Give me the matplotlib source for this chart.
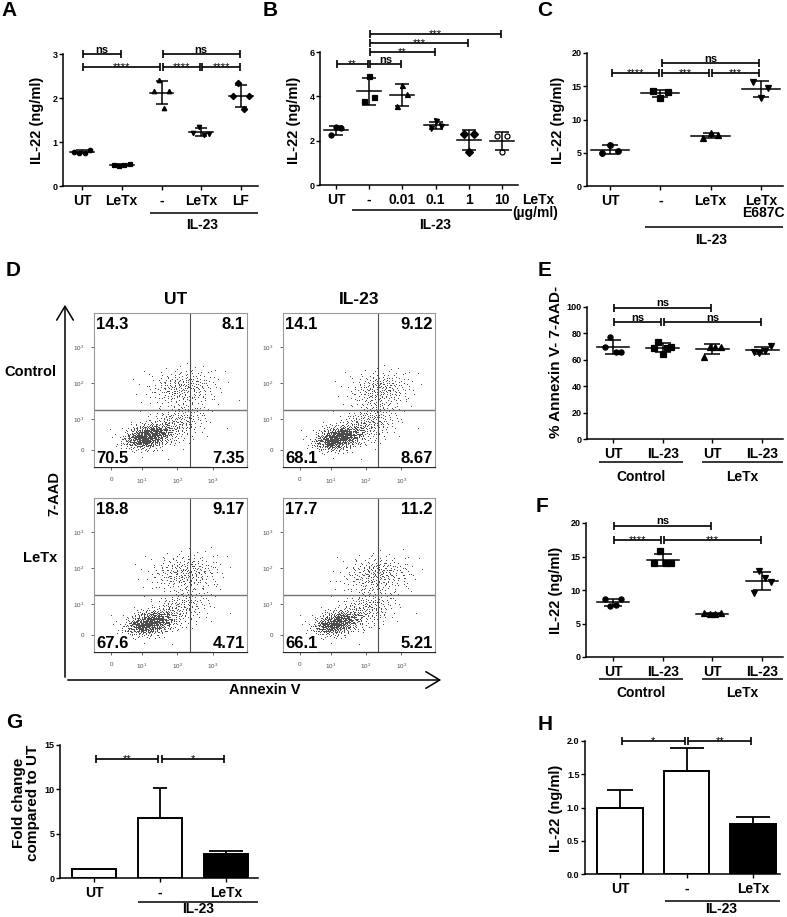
import numpy as np
import matplotlib
matplotlib.use('Agg')
import matplotlib.pyplot as plt
from matplotlib.lines import Line2D
from matplotlib.patches import FancyArrowPatch

plt.rcParams['font.family'] = ['Liberation Sans', 'DejaVu Sans']
plt.rcParams['font.weight'] = 'bold'
plt.rcParams['mathtext.default'] = 'regular'

# ======================= DATA =======================
# Panel A
A_labels = ['UT', 'LeTx', '-', 'LeTx', 'LF']
A_UT = [0.78, 0.75, 0.76, 0.82]
A_LeTx = [0.47, 0.46, 0.48, 0.50]
A_IL23 = [2.15, 2.42, 1.77, 2.15]
A_IL23_LeTx = [1.20, 1.35, 1.15, 1.18]
A_IL23_LF = [2.05, 2.35, 1.75, 2.05]
A_sig = [(0, 1, 3.0, 'ns'), (0, 2, 2.7, '****'), (2, 4, 3.0, 'ns'),
         (2, 3, 2.7, '****'), (3, 4, 2.7, '****')]

# Panel B
B_labels = ['UT', '-', '0.01', '0.1', '1', '10']
B_UT = [2.25, 2.62, 2.55]
B_IL23 = [3.80, 4.92, 3.95]
B_001 = [3.55, 4.52, 4.10]
B_01 = [2.55, 2.88, 2.65]
B_1 = [2.30, 1.50, 2.30]
B_10 = [2.22, 1.50, 2.22]
B_sig = [(0, 1, 5.46, '**'), (1, 2, 5.46, 'ns'), (1, 3, 6.0, '**'),
         (1, 4, 6.4, '***'), (1, 5, 6.8, '***')]

# Panel C
C_labels = ['UT', '-', 'LeTx', 'LeTx']
C_UT = [5.0, 6.2, 5.2]
C_IL23 = [14.3, 13.3, 14.2]
C_LeTx = [7.2, 7.9, 7.6]
C_E687C = [15.7, 13.3, 14.7]
C_sig = [(0, 1, 17.0, '****'), (1, 2, 17.0, '***'), (2, 3, 17.0, '***'),
         (1, 3, 18.5, 'ns')]

# Panel D (quadrant percentages: UL, UR, LL, LR)
D_cols = ['UT', 'IL-23']
D_rows = ['Control', 'LeTx']
D_quad = [[14.3, 8.1, 70.5, 7.35],
          [14.1, 9.12, 68.1, 8.67],
          [18.8, 9.17, 67.6, 4.71],
          [17.7, 11.2, 66.1, 5.21]]
# event clouds: (centre x, centre y, spread x, spread y, corr, n events) in decades
D_clusters = [
    [(1.15, 0.50, 0.32, 0.17, 0.30, 800), (1.95, 0.85, 0.45, 0.30, 0.35, 260), (2.15, 1.85, 0.50, 0.26, 0.10, 280)],
    [(1.20, 0.45, 0.32, 0.17, 0.30, 800), (2.05, 0.85, 0.45, 0.30, 0.35, 280), (2.40, 1.80, 0.45, 0.26, 0.10, 260)],
    [(1.20, 0.45, 0.33, 0.17, 0.30, 760), (2.05, 0.85, 0.45, 0.30, 0.35, 230), (2.20, 1.85, 0.50, 0.26, 0.10, 280)],
    [(1.15, 0.45, 0.31, 0.17, 0.30, 680), (2.00, 0.85, 0.45, 0.30, 0.35, 250), (2.30, 1.80, 0.50, 0.26, 0.10, 290)],
]
D_tick_pos = [0.13, 1, 2, 3]
D_tick_lab = ['0', '$10^1$', '$10^2$', '$10^3$']
D_ytick_pos = [0.14, 1, 2, 3]

# Panel E
E_labels = ['UT', 'IL-23', 'UT', 'IL-23']
E_C_UT = [70.0, 77.0, 66.0, 66.0]
E_C_IL23 = [69.0, 73.5, 64.5, 69.0, 70.0]
E_L_UT = [62.5, 70.0, 69.5, 70.0]
E_L_IL23 = [66.0, 65.0, 67.0, 70.5]
E_sig = [(0, 2, 99.5, 'ns'), (0, 1, 88.5, 'ns'), (1, 3, 88.5, 'ns')]

# Panel F
F_labels = ['UT', 'IL-23', 'UT', 'IL-23']
F_C_UT = [8.7, 7.6, 7.7, 8.6]
F_C_IL23 = [14.0, 15.8, 14.0, 14.0]
F_L_UT = [6.5, 6.4, 6.4, 6.6]
F_L_IL23 = [9.5, 12.8, 11.8, 11.2]
F_sig = [(0, 2, 19.6, 'ns'), (0, 1, 17.5, '****'), (1, 3, 17.5, '***')]

# Panel G
G_labels = ['UT', '-', 'LeTx']
G_mean = [1.0, 6.8, 2.75]
G_err = [0.0, 3.3, 0.35]
G_sig = [(0, 1, 13.4, '**'), (1, 2, 13.4, '*')]

# Panel H
H_labels = ['UT', '-', 'LeTx']
H_mean = [1.0, 1.55, 0.75]
H_err = [0.27, 0.34, 0.11]
H_sig = [(0, 1, 2.0, '*'), (1, 2, 2.0, '**')]

# ======================= FIGURE =======================
W, H = 787, 917
fig = plt.figure(figsize=(W / 100, H / 100), dpi=100)


def fy(y):
    return 1 - y / H


def add_ax(L, T, R, B):
    return fig.add_axes([L / W, fy(B), (R - L) / W, (B - T) / H])


def ftext(x, y, s, size=10, ha='center', va='center', rot=0, weight='bold', **kw):
    fig.text(x / W, fy(y), s, fontsize=size, ha=ha, va=va, rotation=rot,
             fontweight=weight, **kw)


def fline(x0, x1, y, lw=1.1):
    fig.add_artist(Line2D([x0 / W, x1 / W], [fy(y), fy(y)], color='k', lw=lw,
                          solid_capstyle='butt'))


def prism_axes(box, ylim, yticks, ytl, xlabels, c0, step):
    L, T, R, B = box
    ax = add_ax(L, T, R, B)
    ax.set_xlim((L - c0) / step, (R - c0) / step)
    ax.set_ylim(*ylim)
    ax.set_facecolor('none')
    for s in ['top', 'right']:
        ax.spines[s].set_visible(False)
    for s in ['left', 'bottom']:
        ax.spines[s].set_linewidth(1.1)
    ax.set_yticks(yticks)
    ax.set_yticklabels(ytl, fontsize=6.5, fontweight='bold')
    ax.set_xticks(range(len(xlabels)))
    ax.set_xticklabels(xlabels, fontsize=10, fontweight='bold')
    ax.tick_params(axis='y', direction='out', length=3, width=1.0, pad=1)
    ax.tick_params(axis='x', direction='out', length=3, width=1.0, pad=2.5)
    return ax


def sig(ax, x1, x2, y, txt, shrink=0.03):
    a, b = x1 + shrink, x2 - shrink
    ax.plot([a, b], [y, y], color='k', lw=1.2, clip_on=False, solid_capstyle='butt')
    ax.plot([a, b], [y, y], ls='none', marker='|', ms=6, mew=1.2, color='k', clip_on=False)
    if txt == 'ns':
        ax.annotate(txt, xy=((a + b) / 2, y), xytext=(0, 1.0), textcoords='offset points',
                    ha='center', va='baseline', fontsize=8, fontweight='bold',
                    annotation_clip=False)
    else:
        ax.annotate(txt, xy=((a + b) / 2, y), xytext=(0, -2.2), textcoords='offset points',
                    ha='center', va='baseline', fontsize=8, fontweight='normal',
                    annotation_clip=False)


def dotplot(ax, groups, markers, fills, half_mean, capsize, ms=4, spread=0.17):
    for i, (vals, m, fc) in enumerate(zip(groups, markers, fills)):
        vals = np.asarray(vals, dtype=float)
        n = len(vals)
        offs = np.linspace(-spread, spread, n)
        ax.plot(i + offs, vals, ls='none', marker=m, ms=ms, mfc=fc, mec='k', mew=0.9,
                clip_on=False, zorder=3)
        mean = vals.mean()
        sd = vals.std(ddof=1)
        ax.plot([i - half_mean, i + half_mean], [mean, mean], color='k', lw=1.1, zorder=4)
        ax.errorbar([i], [mean], yerr=[sd], color='k', lw=1.1, capsize=capsize,
                    capthick=1.1, fmt='none', zorder=4)


def barplot(ax, vals, errs, fills, caps, width=0.67):
    for i, (v, e, f, c) in enumerate(zip(vals, errs, fills, caps)):
        ax.bar(i, v, width=width, color=f, edgecolor='k', lw=1.4, zorder=2)
        if e > 0:
            ax.errorbar([i], [v], yerr=[[0], [e]], color='k', lw=1.3, capsize=c,
                        capthick=1.3, fmt='none', zorder=3)


# ---------------- Panel A ----------------
axA = prism_axes((63, 54, 258, 186), (0, 3), [0, 1, 2, 3], ['0', '1', '2', '3'],
                 A_labels, 82, 39.75)
dotplot(axA, [A_UT, A_LeTx, A_IL23, A_IL23_LeTx, A_IL23_LF],
        ['o', 's', '^', 'v', 'D'], ['k'] * 5, 0.3, 4, ms=3.2, spread=0.2)
for s in A_sig:
    sig(axA, *s)
ftext(37, 120, 'IL-22 (ng/ml)', size=10.5, rot=90)
fline(150, 258, 213)
ftext(202, 225, 'IL-23', size=10)
ftext(9, 11, 'A', size=15)

# ---------------- Panel B ----------------
axB = prism_axes((320, 52, 518, 185), (0, 6), [0, 2, 4, 6], ['0', '2', '4', '6'],
                 B_labels, 336, 33.2)
dotplot(axB, [B_UT, B_IL23, B_001, B_01, B_1, B_10],
        ['o', 's', '^', 'v', 'D', 'o'], ['k', 'k', 'k', 'k', 'k', 'white'], 0.36, 5,
        ms=3.6, spread=0.15)
for s in B_sig:
    sig(axB, *s)
ftext(294, 120, 'IL-22 (ng/ml)', size=10.5, rot=90)
fline(352, 512, 210)
ftext(435, 225, 'IL-23', size=10)
ftext(522, 200, 'LeTx', size=10, ha='left')
ftext(512, 213, '(µg/ml)', size=10, ha='left')
ftext(270, 10, 'B', size=15)

# ---------------- Panel C ----------------
axC = prism_axes((587, 53, 783, 186), (0, 20), [0, 5, 10, 15, 20],
                 ['0', '5', '10', '15', '20'], C_labels, 610, 50.3)
dotplot(axC, [C_UT, C_IL23, C_LeTx, C_E687C], ['o', 's', '^', 'v'], ['k'] * 4, 0.38, 5.8,
        ms=4.0, spread=0.15)
for s in C_sig:
    sig(axC, *s)
ftext(558, 120, 'IL-22 (ng/ml)', size=10.5, rot=90)
ftext(763, 213, 'E687C', size=10)
fline(645, 783, 227)
ftext(711, 240, 'IL-23', size=10)
ftext(545, 11, 'C', size=15)

# ---------------- Panel D ----------------
def halton(n, base, start):
    out = np.empty(n)
    for k in range(n):
        i = k + start
        f, r = 1.0, 0.0
        while i > 0:
            f /= base
            r += f * (i % base)
            i //= base
        out[k] = r
    return out


D_boxes = [(94, 313, 247, 467), (283, 313, 435, 467), (94, 498, 247, 652), (283, 498, 435, 652)]
for p, box in enumerate(D_boxes):
    ax = add_ax(*box)
    ax.set_xlim(-0.35, 3.96)
    ax.set_ylim(-0.33, 3.94)
    for s in ['top', 'left', 'right']:
        ax.spines[s].set_color('0.6')
        ax.spines[s].set_linewidth(0.8)
    ax.spines['bottom'].set_color('0.15')
    ax.spines['bottom'].set_linewidth(0.9)
    for c, (cx, cy, sx, sy, rho, n) in enumerate(D_clusters[p]):
        u1 = halton(n, 5, 3 + 53 * c + 17 * p)
        u2 = halton(n, 7, 3 + 53 * c + 17 * p)
        r = np.sqrt(-2 * np.log(np.clip(u1, 1e-6, 1)))
        z1 = r * np.cos(2 * np.pi * u2)
        z2 = r * np.sin(2 * np.pi * u2)
        xs = cx + sx * z1
        ys = cy + sy * (rho * z1 + np.sqrt(1 - rho ** 2) * z2)
        ax.plot(xs, ys, ',', color='0.3', zorder=1)
    ax.axvline(2.35, color='0.3', lw=0.8, zorder=2)
    ax.axhline(1.25, color='0.45', lw=1.0, zorder=2)
    ax.set_xticks(D_tick_pos)
    ax.set_xticklabels(D_tick_lab, fontsize=4.5, fontweight='normal')
    ax.set_yticks(D_ytick_pos)
    ax.set_yticklabels(D_tick_lab, fontsize=4.5, fontweight='normal')
    ax.tick_params(axis='both', direction='out', length=2, width=0.6, pad=5, colors='0.3')
    q = D_quad[p]
    bb = dict(facecolor='white', edgecolor='none', pad=0.6)
    ax.text(0.015, 0.975, str(q[0]), transform=ax.transAxes, ha='left', va='top',
            fontsize=12, fontweight='bold', bbox=bb, zorder=5)
    ax.text(0.985, 0.975, str(q[1]), transform=ax.transAxes, ha='right', va='top',
            fontsize=12, fontweight='bold', bbox=bb, zorder=5)
    ax.text(0.015, 0.005, str(q[2]), transform=ax.transAxes, ha='left', va='bottom',
            fontsize=12, fontweight='bold', bbox=bb, zorder=5)
    ax.text(0.985, 0.005, str(q[3]), transform=ax.transAxes, ha='right', va='bottom',
            fontsize=12, fontweight='bold', bbox=bb, zorder=5)

ftext(176, 300, D_cols[0], size=12.5)
ftext(359, 300, D_cols[1], size=12.5)
ftext(30, 372, D_rows[0], size=10.5)
ftext(40, 558, D_rows[1], size=10.5)
ftext(54, 493, '7-AAD', size=10.5, rot=90)
ftext(265, 690, 'Annexin V', size=10.5)
fig.add_artist(FancyArrowPatch((65 / W, fy(680)), (65 / W, fy(302)), transform=fig.transFigure,
                               arrowstyle='->,head_length=0.5,head_width=0.3',
                               mutation_scale=20, lw=1.1, color='k'))
fig.add_artist(FancyArrowPatch((65 / W, fy(680)), (444 / W, fy(680)), transform=fig.transFigure,
                               arrowstyle='->,head_length=0.5,head_width=0.3',
                               mutation_scale=20, lw=1.1, color='k'))
ftext(13, 270, 'D', size=15)

# ---------------- Panel E ----------------
axE = prism_axes((587, 307, 783, 439), (0, 100), [0, 20, 40, 60, 80, 100],
                 ['0', '20', '40', '60', '80', '100'], E_labels, 613, 49.7)
dotplot(axE, [E_C_UT, E_C_IL23, E_L_UT, E_L_IL23], ['o', 's', '^', 'v'], ['k'] * 4,
        0.33, 6, ms=3.7, spread=0.17)
for s in E_sig:
    sig(axE, *s)
ftext(556, 362, '% Annexin V- 7-AAD-', size=11, rot=90)
fline(599, 683, 462)
fline(702, 783, 462)
ftext(641, 477, 'Control', size=10)
ftext(742, 477, 'LeTx', size=10)
ftext(545, 271, 'E', size=15)

# ---------------- Panel F ----------------
axF = prism_axes((586, 523, 783, 657), (0, 20), [0, 5, 10, 15, 20],
                 ['0', '5', '10', '15', '20'], F_labels, 613, 49.7)
dotplot(axF, [F_C_UT, F_C_IL23, F_L_UT, F_L_IL23], ['o', 's', '^', 'v'], ['k'] * 4,
        0.32, 6.5, ms=3.7, spread=0.17)
for s in F_sig:
    sig(axF, *s)
ftext(556, 590, 'IL-22 (ng/ml)', size=10.5, rot=90)
fline(599, 683, 679)
fline(702, 783, 679)
ftext(641, 693, 'Control', size=10)
ftext(742, 693, 'LeTx', size=10)
ftext(542, 506, 'F', size=15)

# ---------------- Panel G ----------------
axG = prism_axes((60, 745, 258, 878), (0, 15), [0, 5, 10, 15], ['0', '5', '10', '15'],
                 G_labels, 94, 66)
barplot(axG, G_mean, G_err, ['white', 'white', 'black'], [0, 4.7, 12])
for s in G_sig:
    sig(axG, *s)
ftext(26, 803, 'Fold change\ncompared to UT', size=11, rot=90, linespacing=0.95)
fline(138, 258, 902)
ftext(198, 909, 'IL-23', size=10)
ftext(14, 722, 'G', size=15)

# ---------------- Panel H ----------------
axH = prism_axes((585, 741, 780, 874), (0, 2.0), [0, 0.5, 1.0, 1.5, 2.0],
                 ['0.0', '0.5', '1.0', '1.5', '2.0'], H_labels, 620, 66.5)
barplot(axH, H_mean, H_err, ['white', 'white', 'black'], [9.4, 12, 12], width=0.68)
for s in H_sig:
    sig(axH, *s)
ftext(556, 808, 'IL-22 (ng/ml)', size=10.5, rot=90)
fline(665, 780, 901)
ftext(721, 909, 'IL-23', size=10)
ftext(545, 724, 'H', size=15)

fig.savefig('out.png', dpi=100)
